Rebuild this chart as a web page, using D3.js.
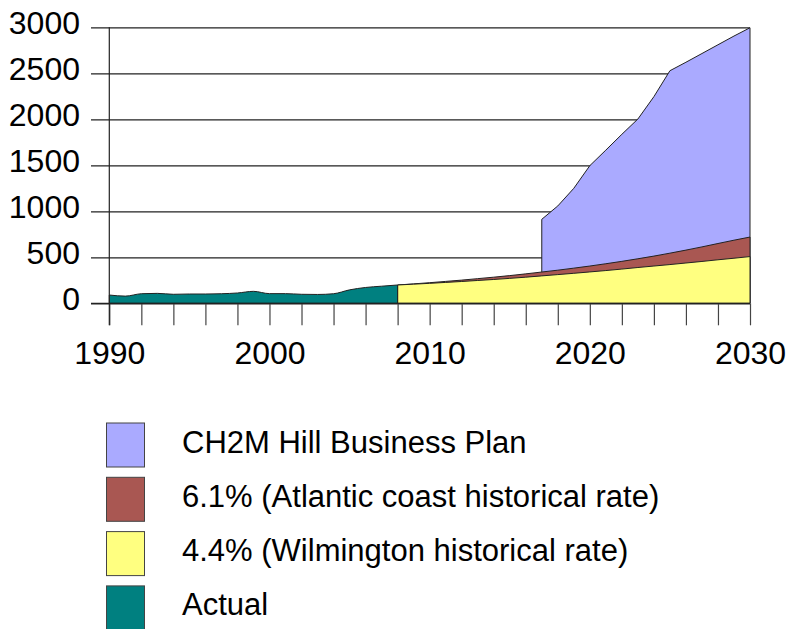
<!DOCTYPE html>
<html>
<head>
<meta charset="utf-8">
<script src="https://cdn.jsdelivr.net/npm/d3@7"></script>
<style>
  html, body { margin: 0; padding: 0; background: #fff; }
  svg { display: block; font-family: "Liberation Sans", Arial, sans-serif; }
</style>
</head>
<body>
<svg id="chart" width="796" height="629"></svg>
<script>
// ---- data ----
const actualYears = [1990,1991,1992,1993,1994,1995,1996,1997,1998,1999,2000,2001,2002,2003,2004,2005,2006,2007,2008];
const actualValues = [90,78,104,108,98,101,101,104,112,130,105,105,98,96,104,146,172,186,199];

const projYears = [2008,2009,2010,2011,2012,2013,2014,2015,2016,2017,2018,2019,2020,2021,2022,2023,2024,2025,2026,2027,2028,2029,2030];
const wilmingtonValues = [199,208,217,227,237,248,259,271,284,298,312,326,341,356,372,389,405,421,438,455,473,490,508];
const atlanticValues = [199,211,224,238,252,268,284,301,320,340,360,382,405,430,456,484,513,545,578,613,650,686,720];

const planYears = [2017,2018,2019,2020,2021,2022,2023,2024,2025,2026,2027,2028,2029,2030];
const planValues = [913,1058,1250,1496,1665,1837,2003,2246,2528,2620,2715,2810,2905,2995];

const yTicks = [0,500,1000,1500,2000,2500,3000];
const xTicks = [1990,1992,1994,1996,1998,2000,2002,2004,2006,2008,2010,2012,2014,2016,2018,2020,2022,2024,2026,2028,2030];
const xLabels = [1990,2000,2010,2020,2030];

const legendLabels = ["CH2M Hill Business Plan","6.1% (Atlantic coast historical rate)","4.4% (Wilmington historical rate)","Actual"];
const legendColors = ["#AAAAFF","#A95752","#FFFF80","#008080"];

// ---- drawing ----
const svg = d3.select("#chart");
const x = d3.scaleLinear().domain([1990, 2030]).range([109.3, 750]);
const y = d3.scaleLinear().domain([0, 3000]).range([303.3, 27.3]);
const gridLeft = 91;

// gridlines + y labels
const yAxis = d3.axisLeft(y).tickValues(yTicks).tickFormat(d3.format("d"))
  .tickSizeInner(-(750 - gridLeft)).tickSizeOuter(0).tickPadding(11);
const gy = svg.append("g").attr("transform", `translate(${gridLeft},0)`).call(yAxis);
gy.select(".domain").remove();
gy.selectAll(".tick line").attr("stroke", "#222").attr("stroke-width", 1.2);
gy.selectAll(".tick text").attr("dy", "0.2em").attr("font-size", 32).attr("fill", "#000")
  .attr("font-family", "Liberation Sans, Arial, sans-serif");

// areas
const mk = (yrs, vals) => yrs.map((yr, i) => ({ yr, v: vals[i] }));
const area = d3.area().x(d => x(d.yr)).y0(y(0)).y1(d => y(d.v));

svg.append("path").datum(mk(planYears, planValues))
  .attr("d", area.curve(d3.curveLinear)).attr("fill", legendColors[0]).attr("stroke", "#222").attr("stroke-width", 1);
svg.append("path").datum(mk(projYears, atlanticValues))
  .attr("d", area.curve(d3.curveMonotoneX)).attr("fill", legendColors[1]).attr("stroke", "#222").attr("stroke-width", 1);
svg.append("path").datum(mk(projYears, wilmingtonValues))
  .attr("d", area.curve(d3.curveMonotoneX)).attr("fill", legendColors[2]).attr("stroke", "#222").attr("stroke-width", 1);
svg.append("path").datum(mk(actualYears, actualValues))
  .attr("d", area.curve(d3.curveMonotoneX)).attr("fill", legendColors[3]).attr("stroke", "#222").attr("stroke-width", 1);

// x axis
const xAxis = d3.axisBottom(x).tickValues(xTicks).tickSizeInner(22).tickSizeOuter(0)
  .tickFormat(d => xLabels.includes(d) ? String(d) : "");
const gx = svg.append("g").attr("transform", `translate(0,${y(0)})`).call(xAxis);
gx.select(".domain").remove();
gx.selectAll(".tick line").attr("stroke", "#444").attr("stroke-width", 1.2);
gx.selectAll(".tick text").attr("y", 61).attr("dy", 0).attr("font-size", 32).attr("fill", "#000")
  .attr("font-family", "Liberation Sans, Arial, sans-serif");
// baseline through full width
svg.append("line").attr("x1", gridLeft).attr("x2", x(2030)).attr("y1", y(0)).attr("y2", y(0))
  .attr("stroke", "#222").attr("stroke-width", 1.2);
// y axis vertical line
svg.append("line").attr("x1", x(1990)).attr("x2", x(1990)).attr("y1", y(3000)).attr("y2", y(0) + 22)
  .attr("stroke", "#222").attr("stroke-width", 1.2);

// legend
const lg = svg.append("g");
const rowY = i => 423 + i * 54.3;
legendLabels.forEach((lab, i) => {
  lg.append("rect").attr("x", 106.5).attr("y", rowY(i)).attr("width", 38).attr("height", 44)
    .attr("fill", legendColors[i]).attr("stroke", "#444").attr("stroke-width", 1);
  lg.append("text").attr("x", 182).attr("y", rowY(i) + 29.5).attr("font-size", 31).attr("fill", "#000")
    .text(lab);
});
</script>
</body>
</html>
